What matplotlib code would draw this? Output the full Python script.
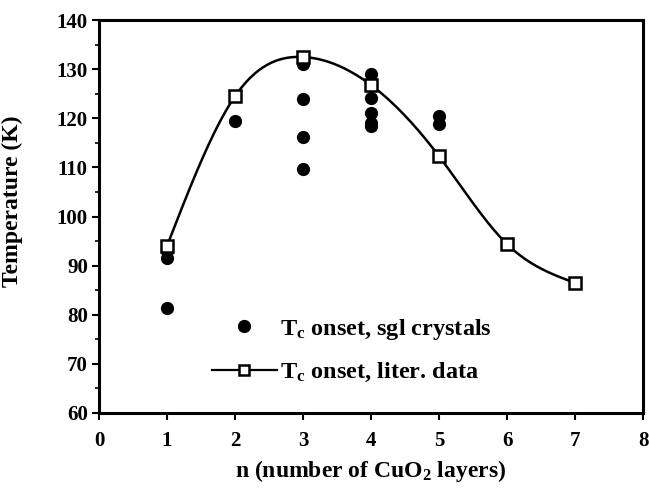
import numpy as np
import matplotlib
matplotlib.use("Agg")
import matplotlib.pyplot as plt
from matplotlib.ticker import MultipleLocator
from matplotlib.lines import Line2D

plt.rcParams['font.family'] = ['Liberation Serif']
plt.rcParams['font.weight'] = 'bold'
plt.rcParams['mathtext.fontset'] = 'custom'
plt.rcParams['mathtext.rm'] = 'Liberation Serif:bold'
plt.rcParams['mathtext.bf'] = 'Liberation Serif:bold'
plt.rcParams['mathtext.it'] = 'Liberation Serif:bold'

# Single-crystal Tc onset
crys_n = [1, 1, 1, 2, 3, 3, 3, 3, 4, 4, 4, 4, 4, 5, 5]
crys_T = [93.0, 91.5, 81.3, 119.5, 131.0, 124.0, 116.3, 109.6, 129.0, 124.2, 121.0, 119.0, 118.5, 120.5, 118.8]

# Literature data
lit_n = [1, 2, 3, 4, 5, 6, 7]
lit_T = [94.0, 124.5, 132.5, 126.8, 112.3, 94.4, 86.5]

xticks = [0, 1, 2, 3, 4, 5, 6, 7, 8]
yticks = [60, 70, 80, 90, 100, 110, 120, 130, 140]


def natural_spline(x, y, xs):
    x = np.asarray(x, float); y = np.asarray(y, float)
    n = len(x)
    h = np.diff(x)
    A = np.zeros((n, n)); b = np.zeros(n)
    A[0, 0] = 1; A[-1, -1] = 1
    for i in range(1, n - 1):
        A[i, i - 1] = h[i - 1]
        A[i, i] = 2 * (h[i - 1] + h[i])
        A[i, i + 1] = h[i]
        b[i] = 3 * ((y[i + 1] - y[i]) / h[i] - (y[i] - y[i - 1]) / h[i - 1])
    c = np.linalg.solve(A, b)
    out = np.empty_like(xs)
    for k, xv in enumerate(xs):
        i = min(max(np.searchsorted(x, xv) - 1, 0), n - 2)
        dx = xv - x[i]
        bb = (y[i + 1] - y[i]) / h[i] - h[i] * (2 * c[i] + c[i + 1]) / 3
        d = (c[i + 1] - c[i]) / (3 * h[i])
        out[k] = y[i] + bb * dx + c[i] * dx ** 2 + d * dx ** 3
    return out


fig = plt.figure(figsize=(6.49, 4.92), dpi=100)
ax = fig.add_axes([0.1525, 0.1606, 0.8383, 0.7984])

xs = np.linspace(min(lit_n), max(lit_n), 300)
ax.plot(xs, natural_spline(lit_n, lit_T, xs), color='black', lw=1.8, zorder=2)
dots, = ax.plot(crys_n, crys_T, 'o', color='black', ms=8.5, zorder=3)
ax.plot(lit_n, lit_T, 's', color='black', mfc='white', ms=9, mew=1.8, zorder=4)
lit_handle = Line2D([], [], color='black', marker='s', mfc='white', ms=6.5, mew=1.8, lw=1.6)

ax.set_xlim(0, 8)
ax.set_ylim(60, 140)
ax.set_xticks(xticks)
ax.set_yticks(yticks)
ax.yaxis.set_minor_locator(MultipleLocator(5))
ax.tick_params(axis='both', which='major', direction='out', length=5, width=1.5, labelsize=15)
ax.tick_params(axis='x', which='major', pad=8)
ax.tick_params(axis='y', which='major', pad=3)
ax.tick_params(axis='y', which='minor', direction='out', length=3, width=1.2)
for s in ax.spines.values():
    s.set_linewidth(2.2)

ax.set_xlabel(r'n (number of CuO$_\mathbf{2}$ layers)', fontsize=17, fontweight='bold', labelpad=5)
ax.set_ylabel('Temperature (K)', fontsize=17, fontweight='bold')
ax.yaxis.set_label_coords(-0.14, 0.54)

leg = ax.legend([dots, lit_handle],
                [r'$\mathbf{T_c}$ onset, sgl crystals', r'$\mathbf{T_c}$ onset, liter. data'],
                loc='upper left', bbox_to_anchor=(0.207, 0.245), frameon=False, fontsize=17.5,
                handlelength=2.7, handletextpad=0.1, labelspacing=0.8, borderpad=0, borderaxespad=0)

fig.savefig('out.png', dpi=100)
